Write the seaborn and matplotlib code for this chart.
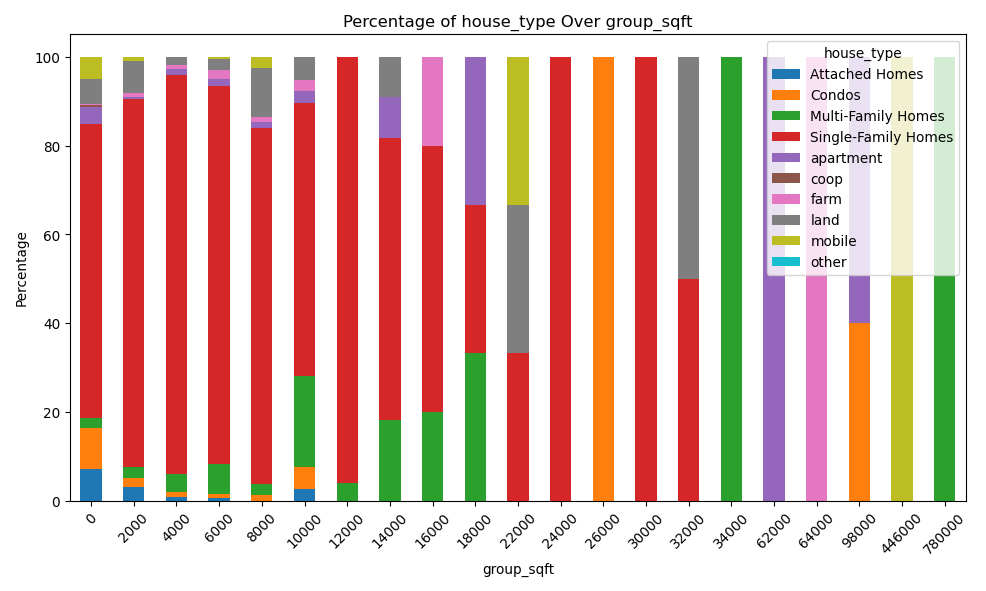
import numpy as np
import pandas as pd
import seaborn as sns
import matplotlib
matplotlib.use("Agg")
import matplotlib.pyplot as plt

groups = ["0", "2000", "4000", "6000", "8000", "10000", "12000", "14000", "16000",
          "18000", "22000", "24000", "26000", "30000", "32000", "34000", "62000",
          "64000", "98000", "446000", "780000"]
house_types = ["Attached Homes", "Condos", "Multi-Family Homes", "Single-Family Homes",
               "apartment", "coop", "farm", "land", "mobile", "other"]

attached = [7.2, 3.0, 0.7, 0.5, 0, 2.5, 0, 0, 0, 0, 0, 0, 0, 0, 0, 0, 0, 0, 0, 0, 0]
condos = [9.1, 2.0, 1.3, 0.9, 1.2, 5.1, 0, 0, 0, 0, 0, 0, 100, 0, 0, 0, 0, 0, 40, 0, 0]
multi = [2.2, 2.5, 4.0, 6.9, 2.5, 20.5, 4, 18.2, 20, 33.33, 0, 0, 0, 0, 0, 100, 0, 0, 0, 0, 100]
single = [66.3, 83.0, 89.9, 85.2, 80.3, 61.6, 96, 63.6, 60, 33.33, 33.33, 100, 0, 100, 50, 0, 0, 0, 0, 0, 0]
apartment = [4.0, 0.5, 1.3, 1.6, 1.3, 2.7, 0, 9.1, 0, 33.34, 0, 0, 0, 0, 0, 0, 100, 0, 60, 0, 0]
coop = [0.3, 0, 0.2, 0, 0, 0, 0, 0, 0, 0, 0, 0, 0, 0, 0, 0, 0, 0, 0, 0, 0]
farm = [0.4, 0.9, 0.9, 2.0, 1.1, 2.5, 0, 0, 20, 0, 0, 0, 0, 0, 0, 0, 0, 100, 0, 0, 0]
land = [5.6, 7.1, 1.7, 2.5, 11.2, 5.1, 0, 9.1, 0, 0, 33.33, 0, 0, 0, 50, 0, 0, 0, 0, 0, 0]
mobile = [4.9, 1.1, 0, 0.4, 2.5, 0, 0, 0, 0, 0, 33.34, 0, 0, 0, 0, 0, 0, 0, 0, 100, 0]
other = [0] * 21

df = pd.DataFrame(dict(zip(house_types, [attached, condos, multi, single, apartment,
                                          coop, farm, land, mobile, other])), index=groups)
df.index.name = "group_sqft"

sns.set_palette("tab10")
fig, ax = plt.subplots(figsize=(10, 6), dpi=98.6)
df.plot(kind="bar", stacked=True, ax=ax, color=sns.color_palette("tab10", 10))
ax.set_title("Percentage of house_type Over group_sqft")
ax.set_xlabel("group_sqft")
ax.set_ylabel("Percentage")
plt.xticks(rotation=45)
ax.legend(title="house_type", loc="upper right")
plt.tight_layout()
plt.savefig("out.png")
